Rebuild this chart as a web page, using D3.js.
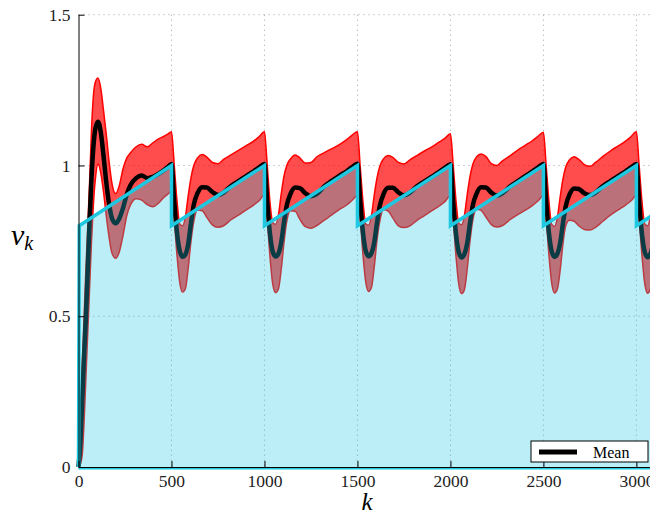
<!DOCTYPE html>
<html>
<head>
<meta charset="utf-8">
<script src="https://cdn.jsdelivr.net/npm/d3@7"></script>
<style>
    body { margin: 0; background: #fff; }
    .tick text { font-family: "Liberation Serif", "DejaVu Serif", serif; font-size: 17.5px; fill: #222; }
    .grid line { stroke: #a0a0a0; stroke-dasharray: 1,4; }
</style>
</head>
<body>
<div id="chart"></div>
<script>

// k steps (iterations)
var kSteps = [0, 10, 20, 30, 40, 50, 60, 70, 80, 90, 105, 120, 135, 150, 165, 180, 200, 220, 240, 260, 280, 310, 340, 370, 400, 430, 460, 480, 500,
    515, 530, 545, 560, 575, 590, 605, 620, 640, 665, 690, 720, 750, 780, 820, 860, 900, 940, 970, 1000,
    1015, 1030, 1045, 1060, 1075, 1090, 1105, 1120, 1140, 1165, 1190, 1220, 1250, 1280, 1320, 1360, 1400, 1440, 1470, 1500,
    1515, 1530, 1545, 1560, 1575, 1590, 1605, 1620, 1640, 1665, 1690, 1720, 1750, 1780, 1820, 1860, 1900, 1940, 1970, 2000,
    2015, 2030, 2045, 2060, 2075, 2090, 2105, 2120, 2140, 2165, 2190, 2220, 2250, 2280, 2320, 2360, 2400, 2440, 2470, 2500,
    2515, 2530, 2545, 2560, 2575, 2590, 2605, 2620, 2640, 2665, 2690, 2720, 2750, 2780, 2820, 2860, 2900, 2940, 2970, 3000,
    3015, 3030, 3045, 3060, 3075, 3090, 3100];

// mean of v_k
var meanV = [0, 0.08, 0.22, 0.37, 0.5, 0.66, 0.82, 0.96, 1.06, 1.12, 1.145, 1.11, 1.03, 0.94, 0.87, 0.825, 0.808, 0.825, 0.86, 0.905, 0.935, 0.958, 0.967, 0.958, 0.962, 0.972, 0.985, 0.995, 1.005,
    0.88, 0.775, 0.715, 0.697, 0.705, 0.74, 0.81, 0.87, 0.908, 0.928, 0.927, 0.912, 0.902, 0.91, 0.932, 0.948, 0.964, 0.98, 0.993, 1.005,
    0.878, 0.772, 0.713, 0.698, 0.708, 0.745, 0.812, 0.868, 0.906, 0.927, 0.925, 0.908, 0.898, 0.905, 0.93, 0.948, 0.965, 0.98, 0.994, 1.006,
    0.882, 0.776, 0.716, 0.699, 0.709, 0.744, 0.81, 0.866, 0.905, 0.926, 0.926, 0.911, 0.901, 0.909, 0.931, 0.947, 0.963, 0.979, 0.992, 1.004,
    0.879, 0.773, 0.712, 0.695, 0.706, 0.742, 0.808, 0.867, 0.906, 0.928, 0.927, 0.91, 0.9, 0.908, 0.93, 0.947, 0.964, 0.98, 0.993, 1.005,
    0.88, 0.774, 0.714, 0.697, 0.707, 0.743, 0.808, 0.865, 0.903, 0.924, 0.922, 0.908, 0.902, 0.91, 0.932, 0.948, 0.964, 0.98, 0.993, 1.005,
    0.878, 0.772, 0.713, 0.696, 0.707, 0.744, 0.79];

// mean + std
var upperV = [0, 0.15, 0.33, 0.5, 0.66, 0.8, 0.95, 1.12, 1.23, 1.275, 1.29, 1.255, 1.18, 1.1, 1.01, 0.94, 0.907, 0.935, 0.99, 1.025, 1.042, 1.062, 1.07, 1.062, 1.075, 1.088, 1.097, 1.104, 1.112,
    1.0, 0.88, 0.805, 0.8, 0.83, 0.9, 0.96, 1.0, 1.025, 1.036, 1.028, 1.01, 1.006, 1.02, 1.035, 1.05, 1.065, 1.08, 1.095, 1.112,
    1.0, 0.875, 0.81, 0.805, 0.835, 0.905, 0.965, 1.0, 1.022, 1.035, 1.025, 1.008, 1.01, 1.028, 1.042, 1.055, 1.068, 1.085, 1.1, 1.112,
    0.995, 0.878, 0.806, 0.802, 0.832, 0.9, 0.958, 0.997, 1.022, 1.033, 1.027, 1.01, 1.005, 1.018, 1.033, 1.048, 1.062, 1.078, 1.09, 1.105,
    1.0, 0.882, 0.808, 0.803, 0.833, 0.902, 0.962, 1.003, 1.028, 1.038, 1.03, 1.006, 1.0, 1.015, 1.032, 1.05, 1.066, 1.082, 1.096, 1.11,
    0.998, 0.878, 0.804, 0.798, 0.828, 0.895, 0.955, 0.995, 1.018, 1.029, 1.02, 1.003, 0.997, 1.01, 1.03, 1.048, 1.064, 1.08, 1.095, 1.112,
    0.998, 0.88, 0.806, 0.8, 0.83, 0.9, 0.94];

// mean - std
var lowerV = [0, 0.01, 0.04, 0.15, 0.3, 0.45, 0.6, 0.75, 0.87, 0.95, 1.005, 0.975, 0.91, 0.83, 0.76, 0.71, 0.692, 0.715, 0.77, 0.835, 0.87, 0.89, 0.885, 0.87, 0.863, 0.875, 0.895, 0.905, 0.915,
    0.82, 0.7, 0.61, 0.58, 0.592, 0.66, 0.75, 0.815, 0.852, 0.85, 0.828, 0.803, 0.795, 0.8, 0.82, 0.835, 0.852, 0.868, 0.882, 0.902,
    0.82, 0.695, 0.605, 0.578, 0.59, 0.655, 0.745, 0.815, 0.85, 0.848, 0.822, 0.797, 0.792, 0.8, 0.818, 0.835, 0.853, 0.868, 0.884, 0.9,
    0.822, 0.702, 0.612, 0.582, 0.595, 0.662, 0.752, 0.815, 0.853, 0.849, 0.826, 0.8, 0.794, 0.799, 0.818, 0.834, 0.85, 0.866, 0.88, 0.9,
    0.818, 0.698, 0.606, 0.575, 0.588, 0.655, 0.748, 0.818, 0.855, 0.851, 0.83, 0.804, 0.796, 0.801, 0.82, 0.836, 0.851, 0.867, 0.882, 0.9,
    0.82, 0.7, 0.608, 0.577, 0.59, 0.652, 0.74, 0.8, 0.818, 0.815, 0.8, 0.788, 0.786, 0.795, 0.815, 0.835, 0.852, 0.868, 0.882, 0.9,
    0.82, 0.7, 0.608, 0.576, 0.59, 0.655, 0.72];

// reference (sawtooth)
var refK = [0, 4, 500, 500, 1000, 1000, 1500, 1500, 2000, 2000, 2500, 2500, 3000, 3000, 3100];
var refV = [0, 0.8, 1, 0.8, 1, 0.8, 1, 0.8, 1, 0.8, 1, 0.8, 1, 0.8, 0.84];

var xTicks = [0, 500, 1000, 1500, 2000, 2500, 3000];
var yTicks = [0, 0.5, 1, 1.5];
var yTickLabels = ["0", "0.5", "1", "1.5"];


var W = 650, H = 517;
var margin = {top: 14.7, right: -5, bottom: 50, left: 78.5};

var svg = d3.select("#chart").append("svg")
    .attr("width", W)
    .attr("height", H)
    .style("display", "block");

var x = d3.scaleLinear().domain([0, 3100]).range([margin.left, W - margin.right]);
var y = d3.scaleLinear().domain([0, 1.5]).range([H - margin.bottom, margin.top]);

var data = kSteps.map(function(k, i){
    return {k: k, mean: meanV[i], up: upperV[i], lo: lowerV[i]};
});
var ref = refK.map(function(k, i){ return {k: k, v: refV[i]}; });

// grid
var grid = svg.append("g").attr("class", "grid");
grid.selectAll(".vg").data(xTicks.slice(1)).enter().append("line")
    .attr("x1", function(d){ return x(d); }).attr("x2", function(d){ return x(d); })
    .attr("y1", y(1.5)).attr("y2", y(0));
grid.selectAll(".hg").data(yTicks.slice(1)).enter().append("line")
    .attr("x1", x(0)).attr("x2", x(3100))
    .attr("y1", function(d){ return y(d); }).attr("y2", function(d){ return y(d); });

// std band
var band = d3.area()
    .x(function(d){ return x(d.k); })
    .y0(function(d){ return y(d.lo); })
    .y1(function(d){ return y(d.up); })
    .curve(d3.curveMonotoneX);

svg.append("path").datum(data)
    .attr("d", band)
    .attr("fill", "#ff0000")
    .attr("fill-opacity", 0.7);

var upLine = d3.line().x(function(d){ return x(d.k); }).y(function(d){ return y(d.up); }).curve(d3.curveMonotoneX);
var loLine = d3.line().x(function(d){ return x(d.k); }).y(function(d){ return y(d.lo); }).curve(d3.curveMonotoneX);
var meanLine = d3.line().x(function(d){ return x(d.k); }).y(function(d){ return y(d.mean); }).curve(d3.curveMonotoneX);

svg.append("path").datum(data).attr("d", upLine)
    .attr("fill", "none").attr("stroke", "#ff0000").attr("stroke-width", 1.5);
svg.append("path").datum(data).attr("d", loLine)
    .attr("fill", "none").attr("stroke", "#ff0000").attr("stroke-width", 1.5);

svg.append("path").datum(data).attr("d", meanLine)
    .attr("fill", "none").attr("stroke", "#000").attr("stroke-width", 4.5)
    .attr("stroke-linejoin", "round");

// reference area (translucent, over everything)
var refArea = d3.area()
    .x(function(d){ return x(d.k); })
    .y0(y(0))
    .y1(function(d){ return y(d.v); });

svg.append("path").datum(ref)
    .attr("d", refArea)
    .attr("fill", "rgb(30,200,225)")
    .attr("fill-opacity", 0.3);

var refLine = d3.line().x(function(d){ return x(d.k); }).y(function(d){ return y(d.v); });
svg.append("path").datum(ref)
    .attr("d", refLine)
    .attr("fill", "none")
    .attr("stroke", "rgb(30,200,225)")
    .attr("stroke-width", 3.5);

// cyan base edge under the axis
svg.append("line")
    .attr("x1", x(0)).attr("x2", x(3100))
    .attr("y1", y(0) + 1.5).attr("y2", y(0) + 1.5)
    .attr("stroke", "rgb(30,200,225)").attr("stroke-width", 2);

// axes
var xAxis = d3.axisBottom(x).tickValues(xTicks).tickSizeInner(-6).tickSizeOuter(0).tickPadding(8)
    .tickFormat(function(d){ return d; });
var yAxis = d3.axisLeft(y).tickValues(yTicks).tickSizeInner(-6).tickSizeOuter(0).tickPadding(8)
    .tickFormat(function(d, i){ return yTickLabels[i]; });

svg.append("g")
    .attr("transform", "translate(0," + y(0) + ")")
    .call(xAxis)
    .call(function(g){ g.selectAll("line, path").attr("stroke", "#000"); });

svg.append("g")
    .attr("transform", "translate(" + x(0) + ",0)")
    .call(yAxis)
    .call(function(g){ g.selectAll("line, path").attr("stroke", "#000"); });

// axis labels
svg.append("text")
    .attr("x", 11).attr("y", 245)
    .style("font-family", "Liberation Serif, serif")
    .style("font-style", "italic")
    .style("font-size", "30px")
    .text("v")
    .append("tspan")
    .attr("dy", 5)
    .style("font-size", "20px")
    .text("k");

svg.append("text")
    .attr("x", 367).attr("y", 510)
    .attr("text-anchor", "middle")
    .style("font-family", "Liberation Serif, serif")
    .style("font-style", "italic")
    .style("font-size", "25px")
    .text("k");

// legend
var legend = svg.append("g").attr("transform", "translate(531,441)");
legend.append("rect")
    .attr("width", 117).attr("height", 21)
    .attr("fill", "#fff").attr("stroke", "#000").attr("stroke-width", 1);
legend.append("line")
    .attr("x1", 8).attr("x2", 46).attr("y1", 11).attr("y2", 11)
    .attr("stroke", "#000").attr("stroke-width", 5);
legend.append("text")
    .attr("x", 62).attr("y", 16.5)
    .style("font-family", "Liberation Serif, serif")
    .style("font-size", "16px")
    .text("Mean");

</script>
</body>
</html>
